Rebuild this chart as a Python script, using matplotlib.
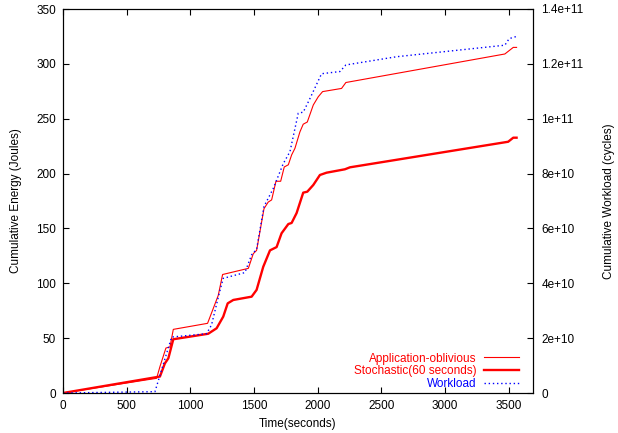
import matplotlib
matplotlib.use("Agg")
import matplotlib.pyplot as plt
from matplotlib.lines import Line2D

plt.rcParams['font.family'] = ['Liberation Sans', 'DejaVu Sans']

app_t = [0, 735, 761, 808, 840, 866, 1135, 1219, 1253, 1455, 1494, 1520, 1578, 1611, 1638, 1672,
         1709, 1737, 1769, 1795, 1821, 1860, 1886, 1918, 1965, 2004, 2038, 2187, 2221, 3469, 3535, 3561]
app_e = [0, 13.4, 24, 41, 42, 58, 63.5, 89, 108, 113.6, 127, 130, 168, 174, 176, 193,
         193, 206, 208, 217, 223, 238, 245, 247, 262.5, 270, 274.7, 277.6, 283, 309, 315, 315]

sto_t = [0, 761, 800, 827, 866, 1140, 1206, 1258, 1293, 1337, 1481, 1520, 1572, 1625, 1677, 1716,
         1769, 1795, 1834, 1886, 1918, 1965, 2017, 2069, 2213, 2253, 3495, 3535, 3561]
sto_e = [0, 15, 27, 31.6, 49, 54, 59, 69.6, 81.7, 84.8, 87.8, 94, 115, 130, 133, 145.6,
         154, 155, 164, 182.6, 183.5, 189.6, 198.7, 200.8, 203.9, 205.7, 229, 232.7, 232.7]

wl_t = [0, 722, 808, 853, 1127, 1166, 1227, 1258, 1428, 1481, 1520, 1578, 1651, 1677, 1729, 1782,
        1847, 1886, 1933, 2030, 2174, 2221, 2619, 3469, 3503, 3561]
wl_c = [0, 0.048e10, 1.36e10, 2.04e10, 2.16e10, 2.48e10, 3.64e10, 4.18e10, 4.39e10, 5.04e10, 5.24e10,
        6.8e10, 7.46e10, 7.76e10, 8.36e10, 8.8e10, 10.2e10, 10.24e10, 10.68e10, 11.64e10, 11.72e10,
        11.96e10, 12.26e10, 12.68e10, 12.92e10, 13.0e10]

x_ticks = [0, 500, 1000, 1500, 2000, 2500, 3000, 3500]
y_ticks = [0, 50, 100, 150, 200, 250, 300, 350]
y2_ticks = [0, 2e10, 4e10, 6e10, 8e10, 1e11, 1.2e11, 1.4e11]
y2_labels = ["0", "2e+10", "4e+10", "6e+10", "8e+10", "1e+11", "1.2e+11", "1.4e+11"]

fig = plt.figure(figsize=(6.18, 4.33), dpi=100)
ax = fig.add_axes([63/618, 40/433, 470/618, 384/433])
ax2 = ax.twinx()

fs = 8.5
ax.plot(app_t, app_e, color='#ff0000', lw=0.8)
ax.plot(sto_t, sto_e, color='#ff0000', lw=1.7)
ax2.plot(wl_t, wl_c, color='#0000ff', lw=1.0, linestyle=(0, (1, 2)))

ax.set_xlim(0, 3690)
ax.set_ylim(0, 350)
ax2.set_ylim(0, 1.4e11)
ax.set_xticks(x_ticks)
ax.set_yticks(y_ticks)
ax2.set_yticks(y2_ticks)
ax2.set_yticklabels(y2_labels)

ax.tick_params(axis='x', direction='in', top=True, labelsize=fs, length=4, width=0.8, pad=5)
ax.tick_params(axis='y', direction='in', left=True, right=False, labelsize=fs, length=4, width=0.8, pad=5)
ax2.tick_params(axis='y', direction='in', labelsize=fs, length=4, width=0.8, pad=6)
for sp in ax.spines.values():
    sp.set_linewidth(0.8)

ax.set_xlabel("Time(seconds)", fontsize=fs, labelpad=4.5)
ax.set_ylabel("Cumulative Energy (Joules)", fontsize=fs, labelpad=10)
ax2.set_ylabel("Cumulative Workload (cycles)", fontsize=fs, labelpad=14)

handles = [Line2D([], [], color='#ff0000', lw=0.8),
           Line2D([], [], color='#ff0000', lw=1.7),
           Line2D([], [], color='#0000ff', lw=1.0, linestyle=(0, (1, 2)))]
labels = ["Application-oblivious", "Stochastic(60 seconds)", "Workload"]
ax.legend(handles, labels, loc='lower right', frameon=False, fontsize=fs,
          markerfirst=False, labelcolor=['#ff0000', '#ff0000', '#0000ff'],
          handlelength=2.96, handletextpad=0.6, labelspacing=0.05,
          bbox_to_anchor=(0.99, -0.016), borderaxespad=0.4)

fig.savefig("out.png", dpi=100)
